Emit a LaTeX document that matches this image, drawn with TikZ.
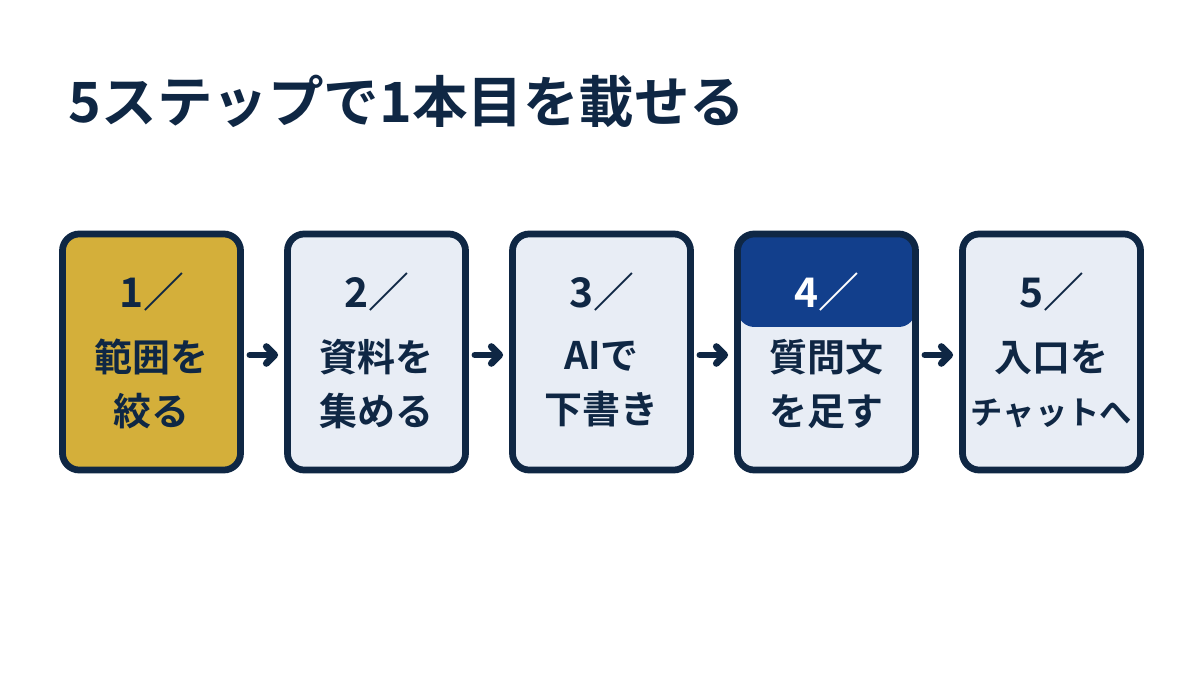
\documentclass[tikz,border=0pt]{standalone}
\usepackage{fontspec}
\setmainfont{Noto Sans CJK JP}[BoldFont={Noto Sans CJK JP Bold}]
\usetikzlibrary{calc, positioning, arrows.meta}
\definecolor{navy}{HTML}{0F2744}
\definecolor{stepgold}{HTML}{D4AF3A}
\definecolor{steplight}{HTML}{E8EDF5}
\definecolor{stepblue}{HTML}{123F8C}
\begin{document}
\begin{tikzpicture}[x=0.025cm, y=-0.025cm,
  stepbox/.style = {draw = navy, line width = 4.8pt, rounded corners = 12pt,
    minimum width = 4.45cm, minimum height = 5.9cm, inner sep = 0pt},
  num/.style = {font = \bfseries\fontsize{29}{33}\selectfont, text = navy},
  body/.style = {font = \bfseries\fontsize{27}{38}\selectfont, text = navy, align = center},
  link/.style = {draw = navy, line width = 4.8pt, line cap = round,
    -{Straight Barb[length = 6pt, width = 12pt, line cap = round, line join = round]}}]
\useasboundingbox (0,0) rectangle (1200,675);
\node[anchor = base west, font = \bfseries\fontsize{39.5}{44}\selectfont, text = navy]
  (title) at (64,123) {5ステップで1本目を載せる};
% steps
\foreach \i/\cx/\col/\lab in {1/151.5/stepgold/{範囲を\\絞る},
    2/376.5/steplight/{資料を\\集める}, 3/601.5/steplight/{AIで\\下書き},
    4/826.5/steplight/{質問文\\を足す}, 5/1051.5/steplight/{入口を\\\fontsize{23}{38}\selectfont チャットへ}} {
  \ifnum\i=4
    \node[stepbox, fill = \col, path picture = {
      \fill[stepblue] (path picture bounding box.north west) rectangle
        ($(path picture bounding box.north east)+(0,93)$);}] (s\i) at (\cx,352) {};
    \node[num, text = white] (n\i) at (\cx,292) {\i／};
  \else
    \node[stepbox, fill = \col] (s\i) at (\cx,352) {};
    \node[num] (n\i) at (\cx,292) {\i／};
  \fi
  \node[body] (b\i) at (\cx,384) {\lab};
}
\foreach \i [evaluate = \i as \j using int(\i+1)] in {1,...,4}
  \draw[link] ($(s\i.east)+(6,3)$) -- ($(s\j.west)+(-6,3)$);
\end{tikzpicture}
\end{document}
